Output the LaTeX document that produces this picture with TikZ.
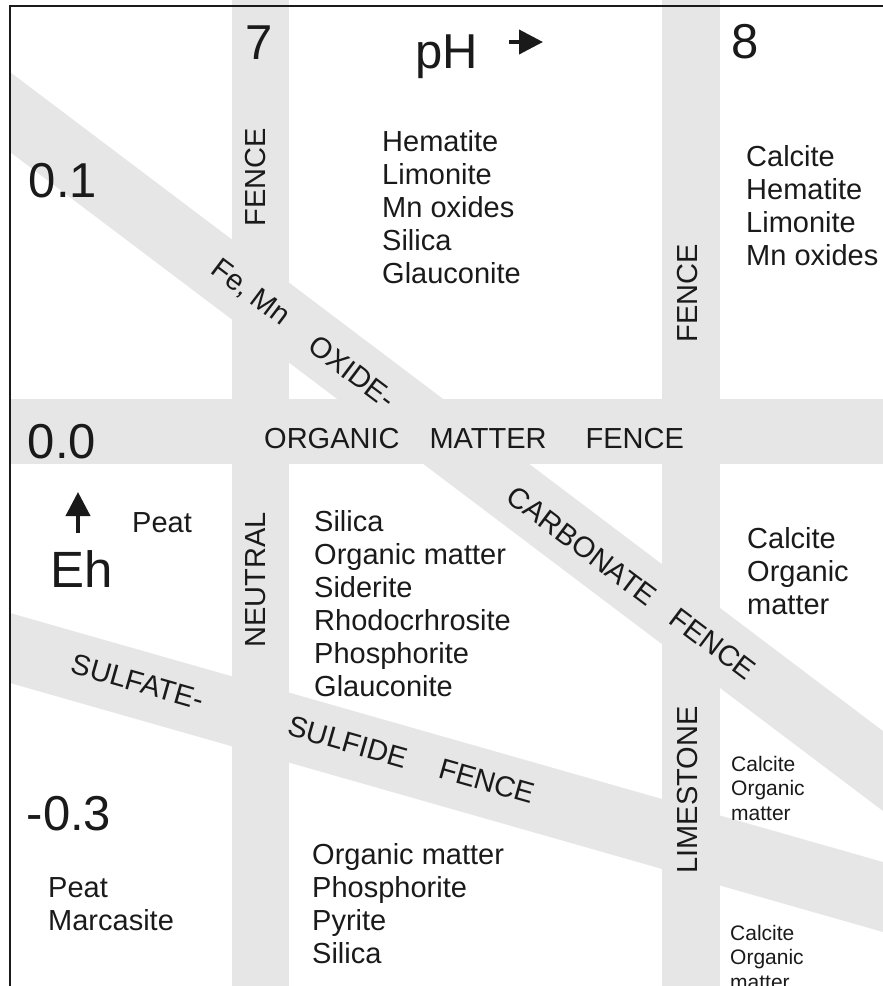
\documentclass[tikz,border=0pt]{standalone}
\usepackage{fontspec}
\setmainfont{Liberation Sans}
\usetikzlibrary{arrows.meta}
\definecolor{bandgray}{HTML}{E6E6E6}
\definecolor{ink}{HTML}{1A1A1A}
\begin{document}
\begin{tikzpicture}[x=1pt,y=-1pt,
  bandfill/.style={fill=bandgray, draw=none},
  big/.style={font=\fontsize{49}{55}\selectfont, inner sep=0pt, text=ink},
  mid/.style={font=\fontsize{29}{33}\selectfont, inner sep=0pt, align=left, text=ink},
  small/.style={font=\fontsize{21}{24.5}\selectfont, inner sep=0pt, align=left, text=ink},
  lab/.style={font=\fontsize{29}{33}\selectfont, inner sep=0pt, text=ink},
  axarrow/.style={line width=4pt, draw=ink, -{Triangle[length=24pt,width=24pt]}},
  frame/.style={line width=2.2pt, draw=ink}
]
\useasboundingbox (0,0) rectangle (883,986);
\clip (0,0) rectangle (883,986);

% fences (grey bands)
\fill[bandfill] (232,0) rectangle (288.5,986);
\fill[bandfill] (662,0) rectangle (720,986);
\fill[bandfill] (10,398.5) rectangle (883,464);
\fill[bandfill] (10,72) -- (883,731) -- (883,811) -- (10,152) -- cycle;
\fill[bandfill] (10,613) -- (883,862) -- (883,932) -- (10,683) -- cycle;

% frame
\draw[frame] (10,986) -- (10,6) -- (883,6);

% axis labels
\node[big, anchor=base] (ph7) at (259,59) {7};
\node[big, anchor=base] (ph) at (447,68) {pH};
\node[big, anchor=base] (ph8) at (745,58) {8};
\node[big, anchor=base] (eh01) at (63,197) {0.1};
\node[big, anchor=base] (eh00) at (62,458) {0.0};
\node[big, anchor=base, font=\fontsize{51}{55}\selectfont] (eh) at (82,587) {Eh};
\node[big, anchor=base] (eh03) at (69,830) {-0.3};

% axis arrows
\coordinate (pha) at (509,42);
\coordinate (phb) at (543,42);
\draw[axarrow] (pha) -- (phb);
\coordinate (eha) at (78,533);
\coordinate (ehb) at (78,492);
\draw[axarrow] (eha) -- (ehb);

% fence labels
\node[lab, rotate=90] (f7) at (256,177) {FENCE};
\node[lab, rotate=90] (f8) at (688,293) {FENCE};
\node[lab, rotate=90] (neutral) at (256,580) {NEUTRAL};
\node[lab, rotate=90] (limestone) at (688,790) {LIMESTONE};
\node[lab, anchor=base west] (omf) at (264,448) {ORGANIC\hspace{30pt}MATTER\hspace{39pt}FENCE};
\node[lab, rotate=-37] (femn) at (250,293) {Fe, Mn};
\node[lab, rotate=-37] (oxide) at (352,372) {OXIDE-};
\node[lab, rotate=-37] (carb) at (582,546) {CARBONATE};
\node[lab, rotate=-37] (cfence) at (713,644) {FENCE};
\node[lab, rotate=-15.9] (sulfate) at (138,682) {SULFATE-};
\node[lab, rotate=-15.9] (sulfide) at (348,742) {SULFIDE};
\node[lab, rotate=-15.9] (sfence) at (487,781) {FENCE};

% mineral lists
\node[mid, anchor=north west] (m1) at (382,130) {Hematite\\Limonite\\Mn oxides\\Silica\\Glauconite};
\node[mid, anchor=north west] (m2) at (746,145) {Calcite\\Hematite\\Limonite\\Mn oxides};
\node[mid, anchor=north west] (peat1) at (132,512) {Peat};
\node[mid, anchor=north west] (m3) at (314,510) {Silica\\Organic matter\\Siderite\\Rhodocrhrosite\\Phosphorite\\Glauconite};
\node[mid, anchor=north west] (m4) at (747,527) {Calcite\\Organic\\matter};
\node[small, anchor=north west] (m5) at (731,756) {Calcite\\Organic\\matter};
\node[small, anchor=north west] (m6) at (730,925) {Calcite\\Organic\\matter};
\node[mid, anchor=north west] (m7) at (312,843) {Organic matter\\Phosphorite\\Pyrite\\Silica};
\node[mid, anchor=north west] (m8) at (48,877) {Peat\\Marcasite};
\end{tikzpicture}
\end{document}
